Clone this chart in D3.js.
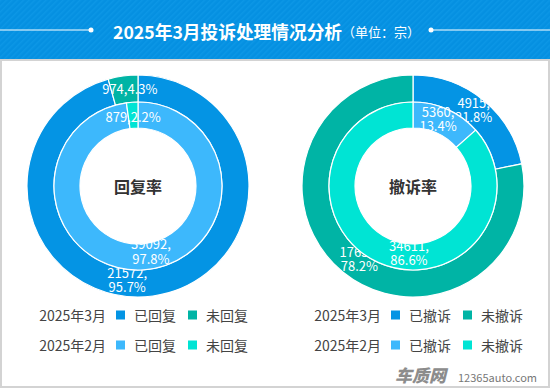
<!DOCTYPE html>
<html lang="zh">
<head>
<meta charset="utf-8">
<title>2025年3月投诉处理情况分析</title>
<script src="https://d3js.org/d3.v7.min.js"></script>
<style>
  body { margin: 0; background: #fff; }
  svg text { font-family: "Noto Sans CJK SC", "Noto Sans", sans-serif; }
</style>
</head>
<body>
<div id="chart"></div>
<script>
// 数据
var months = ["2025年3月", "2025年2月"];
var replyNames = ["已回复", "未回复"];
var withdrawNames = ["已撤诉", "未撤诉"];
var replyMar = [21572, 974];
var replyFeb = [39092, 879];
var withdrawMar = [4915, 17631];
var withdrawFeb = [5360, 34611];
var centerTitles = ["回复率", "撤诉率"];

var colors = {
  mar: ["#0494e4", "#00b4a5"],
  feb: ["#3db8fc", "#00e4d4"]
};

// 标签微调 (与环图配合)
var labelShift = [
  { outer: [[-24, -2], [5, 0]], inner: [[8, -5], [0, 2]] },
  { outer: [[-1, 0], [8, -2]], inner: [[-4, -2], [25, 3]] }
];

var width = 550, height = 388;
var svg = d3.select("#chart").append("svg")
  .attr("width", width)
  .attr("height", height);

// 顶部标题栏
var defs = svg.append("defs");
var pat = defs.append("pattern")
  .attr("id", "stripe")
  .attr("patternUnits", "userSpaceOnUse")
  .attr("width", 4).attr("height", 4)
  .attr("patternTransform", "rotate(45)");
pat.append("rect").attr("width", 4).attr("height", 4).attr("fill", "#0590e1");
pat.append("rect").attr("width", 1.5).attr("height", 4).attr("fill", "#0c97e6");

svg.append("rect")
  .attr("x", 0).attr("y", 0)
  .attr("width", width).attr("height", 60)
  .attr("fill", "url(#stripe)");

svg.append("rect")
  .attr("x", 1).attr("y", 60)
  .attr("width", width - 2).attr("height", height - 61)
  .attr("fill", "none")
  .attr("stroke", "#d3d3d3")
  .attr("stroke-width", 2);

svg.append("line")
  .attr("x1", 0).attr("x2", 91).attr("y1", 30).attr("y2", 30)
  .attr("stroke", "#fff").attr("stroke-width", 1);
svg.append("line")
  .attr("x1", 431).attr("x2", width).attr("y1", 30).attr("y2", 30)
  .attr("stroke", "#fff").attr("stroke-width", 1);
svg.append("circle").attr("cx", 91).attr("cy", 30).attr("r", 2.5).attr("fill", "#fff");
svg.append("circle").attr("cx", 431).attr("cy", 30).attr("r", 2.5).attr("fill", "#fff");

var title = svg.append("text")
  .attr("x", 113).attr("y", 31)
  .attr("dominant-baseline", "central")
  .attr("fill", "#fff");
title.append("tspan")
  .style("font-size", "17.7px")
  .style("font-weight", "bold")
  .text("2025年3月投诉处理情况分析");
title.append("tspan")
  .style("font-size", "13px")
  .text("（单位：宗）");

// 环图
var pie = d3.pie().sort(null).value(function(d) { return d; });
var rOuter = d3.arc().innerRadius(84).outerRadius(111);
var rInner = d3.arc().innerRadius(58).outerRadius(84);
var rOuterLabel = d3.arc().innerRadius(97.5).outerRadius(97.5);
var rInnerLabel = d3.arc().innerRadius(71).outerRadius(71);

var charts = [
  { cx: 138, mar: replyMar, feb: replyFeb, names: replyNames },
  { cx: 413, mar: withdrawMar, feb: withdrawFeb, names: withdrawNames }
];

charts.forEach(function(c, ci) {
  var g = svg.append("g").attr("transform", "translate(" + c.cx + ",186)");

  var rings = [
    { data: c.mar, arc: rOuter, labelArc: rOuterLabel, col: colors.mar, shift: labelShift[ci].outer },
    { data: c.feb, arc: rInner, labelArc: rInnerLabel, col: colors.feb, shift: labelShift[ci].inner }
  ];

  rings.forEach(function(ring) {
    var total = d3.sum(ring.data);
    var arcs = pie(ring.data);

    g.selectAll(null)
      .data(arcs)
      .enter()
      .append("path")
      .attr("d", ring.arc)
      .attr("fill", function(d, i) { return ring.col[i]; })
      .attr("stroke", "#fff")
      .attr("stroke-width", 1.2);

    var lab = g.selectAll(null)
      .data(arcs)
      .enter()
      .append("text")
      .attr("transform", function(d, i) {
        var p = ring.labelArc.centroid(d);
        return "translate(" + (p[0] + ring.shift[i][0]) + "," + (p[1] + ring.shift[i][1]) + ")";
      })
      .attr("text-anchor", "middle")
      .attr("fill", "#fff")
      .style("font-size", "13px");

    lab.each(function(d) {
      var pct = d3.format(".1f")(d.value / total * 100) + "%";
      var t = d3.select(this);
      if (d.value / total < 0.1) {
        t.append("tspan").attr("x", 0).attr("dy", "0.35em").text(d.value + "," + pct);
      } else {
        t.append("tspan").attr("x", 0).attr("dy", "-0.2em").text(d.value + ",");
        t.append("tspan").attr("x", 0).attr("dy", "1.1em").text(pct);
      }
    });
  });

  g.append("text")
    .attr("text-anchor", "middle")
    .attr("dominant-baseline", "central")
    .attr("fill", "#333")
    .style("font-size", "16px")
    .style("font-weight", "bold")
    .text(centerTitles[ci]);

  // 图例
  var lg = svg.append("g").attr("transform", "translate(" + (ci * 275) + ",0)");
  months.forEach(function(m, mi) {
    var y = 315 + mi * 30;
    var col = mi === 0 ? colors.mar : colors.feb;
    lg.append("text")
      .attr("x", 106).attr("y", y)
      .attr("text-anchor", "end")
      .attr("dominant-baseline", "central")
      .attr("fill", "#444")
      .style("font-size", "14px")
      .text(m);
    c.names.forEach(function(n, ni) {
      var x0 = 116 + ni * 72;
      lg.append("rect")
        .attr("x", x0).attr("y", y - 4.5)
        .attr("width", 9).attr("height", 9)
        .attr("fill", col[ni]);
      lg.append("text")
        .attr("x", x0 + 18).attr("y", y)
        .attr("dominant-baseline", "central")
        .attr("fill", "#444")
        .style("font-size", "14px")
        .text(n);
    });
  });
});

// 水印
svg.append("text")
  .attr("x", 395).attr("y", 382)
  .attr("fill", "#8c8c8c")
  .style("font-size", "17px")
  .style("font-weight", "900")
  .style("font-style", "italic")
  .text("车质网");
svg.append("text")
  .attr("x", 458).attr("y", 382)
  .attr("fill", "#777")
  .style("font-size", "11px")
  .text("12365auto.com");
</script>
</body>
</html>
